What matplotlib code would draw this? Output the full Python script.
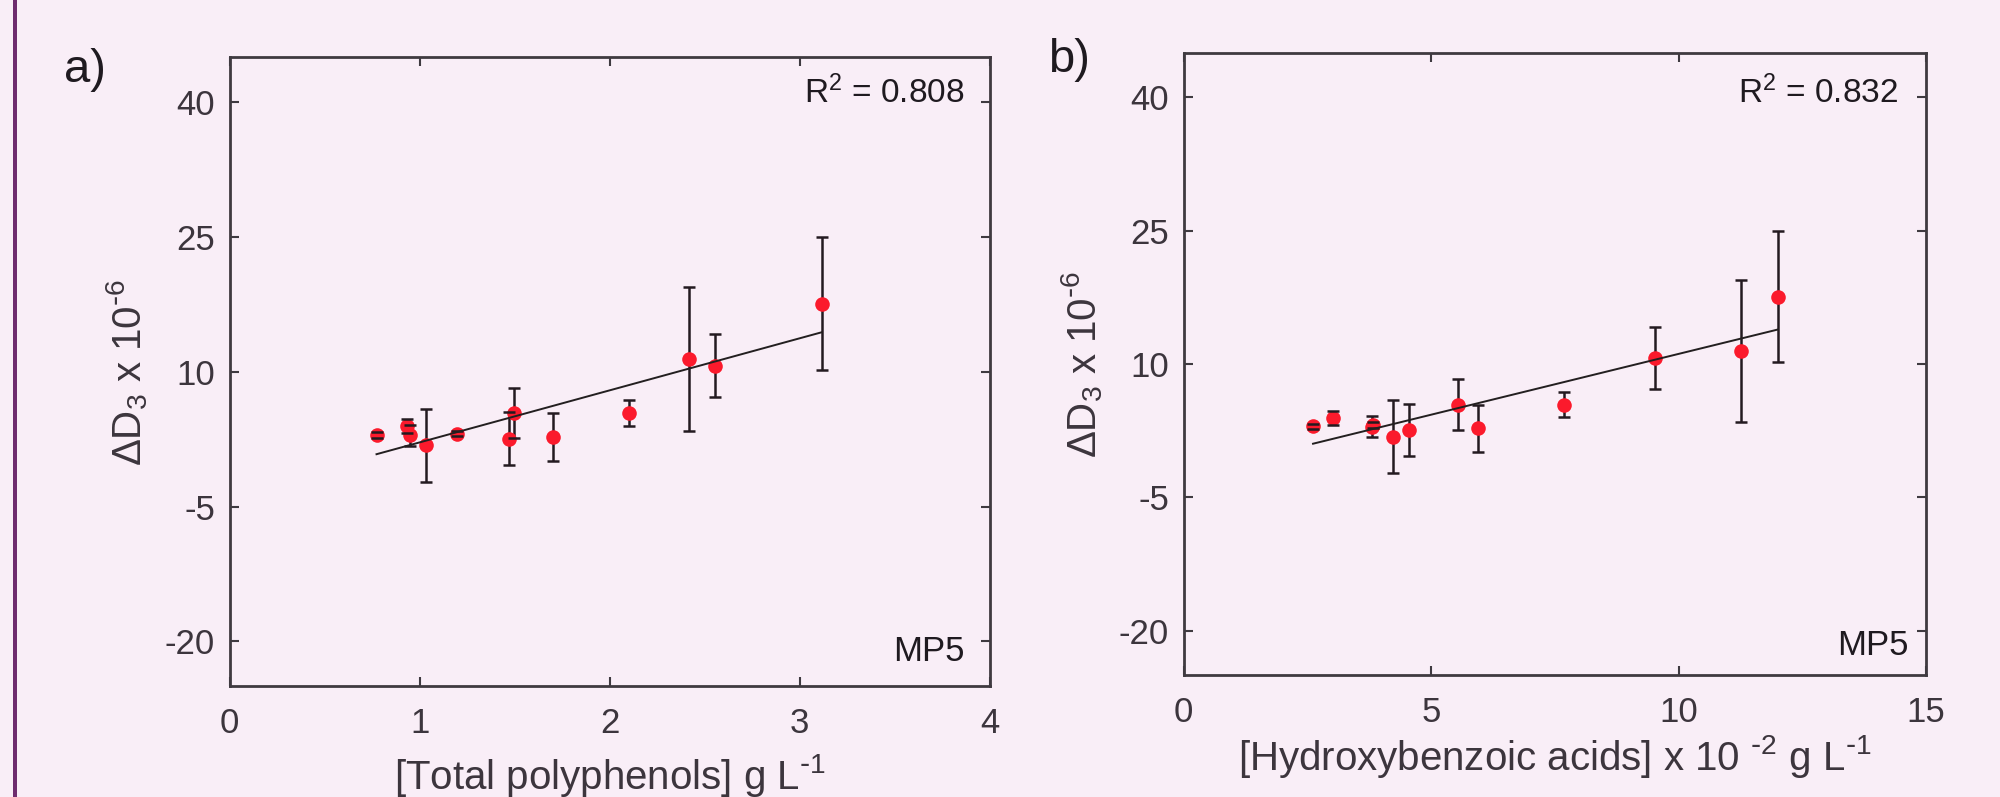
import numpy as np
import matplotlib.pyplot as plt
from matplotlib.patches import Rectangle

plt.rcParams['font.family'] = ['Liberation Sans', 'DejaVu Sans']
plt.rcParams['mathtext.default'] = 'regular'
plt.rcParams['axes.unicode_minus'] = False

# data (same samples in both panels)
total_polyphenols = [0.773, 0.934, 0.948, 1.035, 1.196, 1.468, 1.498, 1.703, 2.102, 2.418, 2.555, 3.115]
hydroxybenzoic = [2.611, 3.017, 3.80, 4.217, 3.82, 4.56, 5.534, 5.94, 7.68, 11.26, 9.53, 12.0]
delta_d3 = [2.97, 3.96, 2.93, 1.82, 3.14, 2.56, 5.43, 2.75, 5.43, 11.44, 10.68, 17.58]
delta_d3_err = [0.3, 0.8, 1.2, 4.1, 0.3, 2.95, 2.83, 2.65, 1.42, 8.0, 3.53, 7.4]
r2_values = ['0.808', '0.832']

bg = '#f9eef7'
axis_col = '#3f3a40'
text_col = '#1f1a20'

fig = plt.figure(figsize=(20, 7.97), dpi=100, facecolor=bg)

# purple rule on the left edge
fig.add_artist(Rectangle((13 / 2000, 0), 4 / 2000, 1, transform=fig.transFigure,
                         color='#6e2c6e', lw=0))


def draw_panel(rect, x, xlim, xticks, xlabel, r2, ylab_x, xlab_y, r2_pos, mp_pos):
    ax = fig.add_axes(rect)
    ax.set_facecolor('none')

    eb = ax.errorbar(x, delta_d3, yerr=delta_d3_err, fmt='none', ecolor='#231a20',
                     elinewidth=1.8, capsize=4.5, capthick=1.8, zorder=2)
    for cap in eb[1]:
        cap.set_zorder(4)
    ax.plot(x, delta_d3, 'o', color='#fb1a2c', ms=10.5, mec='none', zorder=3)

    # least squares line over the data range
    coef = np.polyfit(x, delta_d3, 1)
    xs = np.array([min(x), max(x)])
    ax.plot(xs, np.polyval(coef, xs), color='#231f20', lw=1.4, zorder=5)

    ax.set_xlim(*xlim)
    ax.set_ylim(-25, 45)
    ax.set_xticks(xticks)
    ax.set_yticks([-20, -5, 10, 25, 40])

    for s in ax.spines.values():
        s.set_linewidth(2)
        s.set_color(axis_col)
    ax.tick_params(direction='in', length=6.5, width=1.5, top=True, right=True,
                   labelsize=25, color=axis_col, labelcolor='#3c353d')
    ax.tick_params(axis='x', pad=15)
    ax.tick_params(axis='y', pad=10.5)

    ax.set_ylabel('ΔD$_3$ x 10$^{\\text{-}6}$', fontsize=29, color='#3c353d')
    ax.yaxis.set_label_coords(ylab_x, 0.5)
    ax.set_xlabel(xlabel, fontsize=29, color='#3c353d')
    ax.xaxis.set_label_coords(0.5, xlab_y)

    ax.text(r2_pos[0], r2_pos[1], 'R$^2$ = ' + r2, transform=ax.transAxes,
            ha='right', va='center', fontsize=24, color=text_col)
    ax.text(mp_pos[0], mp_pos[1], 'MP5', transform=ax.transAxes,
            ha='right', va='center', fontsize=25, color=text_col)
    return ax


draw_panel([0.1148, 0.1389, 0.3801, 0.789], total_polyphenols, (0, 4), [0, 1, 2, 3, 4],
           '[Total polyphenols] g L$^{\\text{-}1}$', r2_values[0], -0.105, -0.105,
           (0.967, 0.943), (0.967, 0.055))
draw_panel([0.5919, 0.153, 0.3712, 0.7806], hydroxybenzoic, (0, 15), [0, 5, 10, 15],
           '[Hydroxybenzoic acids] x 10 $^{\\text{-}2}$ g L$^{\\text{-}1}$', r2_values[1],
           -0.106, -0.093, (0.962, 0.9355), (0.977, 0.048))

fig.text(64 / 2000, 1 - 70 / 797, 'a)', ha='left', va='center', fontsize=34, color=text_col)
fig.text(1048 / 2000, 1 - 60 / 797, 'b)', ha='left', va='center', fontsize=34, color=text_col)

fig.savefig('out.png', dpi=100, facecolor=bg)
